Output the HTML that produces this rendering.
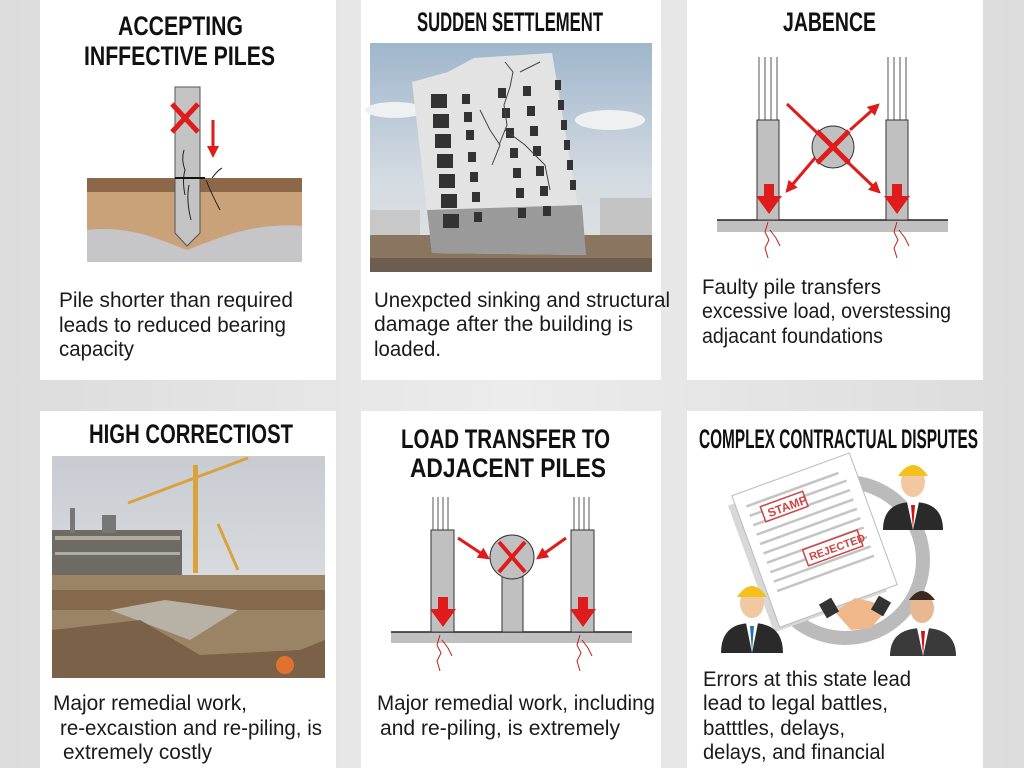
<!DOCTYPE html>
<html><head><meta charset="utf-8"><style>
html,body{margin:0;padding:0;background:#e4e4e4;}
svg{display:block}
.t{font-family:"Liberation Sans Narrow","Liberation Sans",sans-serif;font-weight:bold;font-size:27px;fill:#111}
.b{font-family:"Liberation Sans Narrow","Liberation Sans",sans-serif;font-size:21px;fill:#1a1a1a}
</style></head><body>
<svg width="1024" height="768" viewBox="0 0 1024 768" xmlns="http://www.w3.org/2000/svg">
<defs>
<linearGradient id="bg" x1="0" x2="1"><stop offset="0" stop-color="#dcdcdc"/><stop offset=".5" stop-color="#ececec"/><stop offset="1" stop-color="#dcdcdc"/></linearGradient>
<linearGradient id="sky" x1="0" y1="0" x2="0" y2="1"><stop offset="0" stop-color="#9fb6cc"/><stop offset=".6" stop-color="#d4dbe2"/><stop offset="1" stop-color="#e2e2e2"/></linearGradient>
<linearGradient id="sky2" x1="0" y1="0" x2="0" y2="1"><stop offset="0" stop-color="#c8ccd2"/><stop offset="1" stop-color="#e4e6e8"/></linearGradient>
<marker id="ah" viewBox="0 0 10 10" refX="8" refY="5" markerWidth="4" markerHeight="4" orient="auto"><path d="M0,0L10,5L0,10z" fill="#e01b1b"/></marker>
</defs>
<rect width="1024" height="768" fill="url(#bg)"/>
<!-- cards -->
<rect x="40" y="0" width="296" height="380" fill="#fff"/>
<rect x="361" y="0" width="300" height="380" fill="#fff"/>
<rect x="687" y="0" width="296" height="380" fill="#fff"/>
<rect x="40" y="411" width="296" height="357" fill="#fff"/>
<rect x="361" y="411" width="300" height="357" fill="#fff"/>
<rect x="687" y="411" width="296" height="357" fill="#fff"/>

<!-- card1 -->
<text class="t" x="118" y="35" textLength="125" lengthAdjust="spacingAndGlyphs">ACCEPTING</text>
<text class="t" x="84" y="65" textLength="191" lengthAdjust="spacingAndGlyphs">INFFECTIVE PILES</text>
<rect x="87" y="178" width="215" height="84" fill="#c9a27a"/>
<rect x="87" y="178" width="215" height="14" fill="#8d6848"/>
<path d="M87,230 C130,225 160,240 187,250 C215,240 250,222 302,226 L302,262 L87,262Z" fill="#c6c6c8"/>
<path d="M175,87 L200,87 L200,233 L187,246 L175,233Z" fill="#c3c3c3" stroke="#555" stroke-width="1"/>
<path d="M184,150 q-3,10 1,20 q-3,10 0,25 M189,185 q-3,15 2,35 M206,180 q6,15 14,30 M212,178 q6,-8 10,-10" stroke="#222" fill="none" stroke-width="1"/>
<line x1="175" y1="178" x2="205" y2="178" stroke="#111" stroke-width="2"/>
<path d="M172,104 L198,132 M198,104 L172,132" stroke="#e01b1b" stroke-width="5"/>
<line x1="213" y1="120" x2="213" y2="148" stroke="#e01b1b" stroke-width="3"/>
<path d="M207,146 L219,146 L213,158Z" fill="#e01b1b"/>
<text class="b" x="59" y="307" textLength="234" lengthAdjust="spacingAndGlyphs">Pile shorter than required</text>
<text class="b" x="59" y="332" textLength="227" lengthAdjust="spacingAndGlyphs">leads to reduced bearing</text>
<text class="b" x="59" y="356" textLength="75" lengthAdjust="spacingAndGlyphs">capacity</text>

<!-- card2 -->
<text class="t" x="417" y="31" textLength="186" lengthAdjust="spacingAndGlyphs">SUDDEN SETTLEMENT</text>
<rect x="370" y="43" width="282" height="229" fill="url(#sky)"/>
<ellipse cx="395" cy="110" rx="30" ry="8" fill="#eef0f2"/>
<ellipse cx="610" cy="120" rx="35" ry="10" fill="#eef0f2"/>
<rect x="370" y="210" width="50" height="30" fill="#c8c8c8"/>
<rect x="600" y="198" width="52" height="38" fill="#c4c4c4"/>
<rect x="370" y="235" width="282" height="37" fill="#8a7560"/>
<rect x="370" y="258" width="282" height="14" fill="#6d5d4e"/>
<path d="M412,82 L448,72 L474,58 L552,53 L586,255 L432,253Z" fill="#e3e3e3"/>
<path d="M427,210 L582,205 L586,255 L432,253Z" fill="#9a9a9a"/>
<g fill="#333">
<rect x="431" y="94" width="16" height="14"/><rect x="433" y="114" width="16" height="14"/><rect x="435" y="134" width="16" height="14"/><rect x="437" y="154" width="16" height="14"/><rect x="439" y="174" width="16" height="14"/><rect x="441" y="194" width="16" height="14"/><rect x="443" y="214" width="16" height="14"/>
<rect x="462" y="94" width="8" height="10"/><rect x="464" y="112" width="8" height="10"/><rect x="466" y="130" width="8" height="10"/><rect x="468" y="152" width="8" height="10"/><rect x="470" y="172" width="8" height="10"/><rect x="472" y="192" width="8" height="10"/><rect x="474" y="212" width="8" height="10"/>
<rect x="498" y="88" width="8" height="10"/><rect x="502" y="108" width="8" height="10"/><rect x="506" y="128" width="8" height="10"/><rect x="510" y="148" width="8" height="10"/><rect x="513" y="168" width="8" height="10"/><rect x="516" y="188" width="8" height="10"/><rect x="518" y="208" width="8" height="10"/>
<rect x="523" y="86" width="8" height="10"/><rect x="527" y="106" width="8" height="10"/><rect x="530" y="126" width="8" height="10"/><rect x="533" y="146" width="8" height="10"/><rect x="536" y="166" width="8" height="10"/><rect x="540" y="186" width="8" height="10"/><rect x="543" y="206" width="8" height="10"/>
<rect x="555" y="80" width="6" height="10"/><rect x="558" y="100" width="6" height="10"/><rect x="561" y="120" width="6" height="10"/><rect x="564" y="140" width="6" height="10"/><rect x="567" y="160" width="6" height="10"/><rect x="570" y="180" width="6" height="10"/>
</g>
<path d="M505,62 l8,10 -3,15 -6,18 3,20 -8,20 M480,110 l10,20 10,15 -8,20 M505,130 l20,15 20,20 5,25 M540,62 l-20,10" stroke="#444" fill="none" stroke-width="1"/>
<text class="b" x="374" y="307" textLength="296" lengthAdjust="spacingAndGlyphs">Unexpcted sinking and structural</text>
<text class="b" x="374" y="331" textLength="259" lengthAdjust="spacingAndGlyphs">damage after the building is</text>
<text class="b" x="374" y="356" textLength="67" lengthAdjust="spacingAndGlyphs">loaded.</text>

<!-- card3 -->
<text class="t" x="783" y="31" textLength="93" lengthAdjust="spacingAndGlyphs">JABENCE</text>
<g stroke="#555" stroke-width="1">
<line x1="759" y1="57" x2="759" y2="120"/><line x1="765" y1="57" x2="765" y2="120"/><line x1="771" y1="57" x2="771" y2="120"/><line x1="777" y1="57" x2="777" y2="120"/>
<line x1="888" y1="57" x2="888" y2="120"/><line x1="894" y1="57" x2="894" y2="120"/><line x1="900" y1="57" x2="900" y2="120"/><line x1="906" y1="57" x2="906" y2="120"/>
</g>
<rect x="717" y="220" width="231" height="12" fill="#c0c0c0"/>
<line x1="717" y1="220" x2="948" y2="220" stroke="#222" stroke-width="1.5"/>
<rect x="757" y="120" width="22" height="100" fill="#c0c0c0" stroke="#333"/>
<rect x="886" y="120" width="22" height="100" fill="#c0c0c0" stroke="#333"/>
<circle cx="833" cy="147" r="21" fill="#c0c0c0" stroke="#333"/>
<line x1="787" y1="104" x2="879" y2="192" stroke="#e01b1b" stroke-width="3" marker-end="url(#ah)"/>
<line x1="815" y1="158" x2="787" y2="191" stroke="#e01b1b" stroke-width="3" marker-end="url(#ah)"/>
<line x1="850" y1="130" x2="878" y2="105" stroke="#e01b1b" stroke-width="3" marker-end="url(#ah)"/>
<path d="M817,131 L849,163 M849,131 L817,163" stroke="#e01b1b" stroke-width="5"/>
<path d="M764,184 h10 v12 h8 l-13,18 -13,-18 h8z" fill="#e01b1b"/>
<path d="M892,184 h10 v12 h8 l-13,18 -13,-18 h8z" fill="#e01b1b"/>
<path d="M768,222 l-3,10 4,8 -4,8 3,10 M770,230 l6,8 4,8 M897,222 l-3,10 4,8 -4,8 3,10 M899,230 l6,8 4,8" stroke="#b22" fill="none" stroke-width="1"/>
<text class="b" x="702" y="294" textLength="179" lengthAdjust="spacingAndGlyphs">Faulty pile transfers</text>
<text class="b" x="702" y="318" textLength="249" lengthAdjust="spacingAndGlyphs">excessive load, overstessing</text>
<text class="b" x="702" y="343" textLength="181" lengthAdjust="spacingAndGlyphs">adjacant foundations</text>

<!-- card4 -->
<text class="t" x="89" y="443" textLength="204" lengthAdjust="spacingAndGlyphs">HIGH CORRECTIOST</text>
<rect x="52" y="456" width="273" height="222" fill="url(#sky2)"/>
<rect x="52" y="530" width="130" height="45" fill="#6e6a64"/>
<rect x="55" y="536" width="125" height="4" fill="#b0aaa0"/><rect x="55" y="552" width="125" height="3" fill="#b0aaa0"/>
<rect x="70" y="508" width="5" height="25" fill="#777"/><rect x="102" y="515" width="14" height="18" fill="#777"/>
<rect x="193" y="465" width="5" height="108" fill="#d9a23a"/>
<line x1="128" y1="503" x2="248" y2="458" stroke="#d9a23a" stroke-width="3"/>
<line x1="218" y1="524" x2="238" y2="570" stroke="#d9a23a" stroke-width="3"/>
<rect x="52" y="575" width="273" height="103" fill="#9b8466"/>
<rect x="52" y="590" width="273" height="20" fill="#84694c"/>
<path d="M110,610 L165,600 L238,610 L190,640 Z" fill="#b7b1a6"/>
<path d="M52,630 L140,620 L200,655 L300,650 L325,640 L325,678 L52,678Z" fill="#7b6148"/>
<circle cx="285" cy="665" r="9" fill="#e0722f"/>
<text class="b" x="53" y="710" textLength="194" lengthAdjust="spacingAndGlyphs">Major remedial work,</text>
<text class="b" x="60" y="735" textLength="262" lengthAdjust="spacingAndGlyphs">re-excaıstion and re-piling, is</text>
<text class="b" x="63" y="759" textLength="149" lengthAdjust="spacingAndGlyphs">extremely costly</text>

<!-- card5 -->
<text class="t" x="401" y="448" textLength="209" lengthAdjust="spacingAndGlyphs">LOAD TRANSFER TO</text>
<text class="t" x="410" y="477" textLength="196" lengthAdjust="spacingAndGlyphs">ADJACENT PILES</text>
<g stroke="#555" stroke-width="1">
<line x1="433" y1="497" x2="433" y2="530"/><line x1="438" y1="497" x2="438" y2="530"/><line x1="443" y1="497" x2="443" y2="530"/><line x1="448" y1="497" x2="448" y2="530"/>
<line x1="574" y1="497" x2="574" y2="530"/><line x1="579" y1="497" x2="579" y2="530"/><line x1="584" y1="497" x2="584" y2="530"/><line x1="589" y1="497" x2="589" y2="530"/>
</g>
<rect x="391" y="632" width="241" height="11" fill="#c0c0c0"/>
<line x1="391" y1="632" x2="632" y2="632" stroke="#222" stroke-width="1.5"/>
<rect x="431" y="530" width="23" height="102" fill="#c0c0c0" stroke="#333"/>
<rect x="571" y="530" width="23" height="102" fill="#c0c0c0" stroke="#333"/>
<rect x="502" y="560" width="21" height="72" fill="#c0c0c0" stroke="#333"/>
<circle cx="512" cy="557" r="22" fill="#c0c0c0" stroke="#333"/>
<path d="M499,542 L525,572 M525,542 L499,572" stroke="#e01b1b" stroke-width="4"/>
<line x1="458" y1="538" x2="488" y2="558" stroke="#e01b1b" stroke-width="3" marker-end="url(#ah)"/>
<line x1="566" y1="538" x2="538" y2="558" stroke="#e01b1b" stroke-width="3" marker-end="url(#ah)"/>
<path d="M438,597 h10 v12 h8 l-13,18 -13,-18 h8z" fill="#e01b1b"/>
<path d="M578,597 h10 v12 h8 l-13,18 -13,-18 h8z" fill="#e01b1b"/>
<path d="M440,635 l-3,10 4,8 -4,8 3,10 M442,640 l6,8 4,8 M580,635 l-3,10 4,8 -4,8 3,10 M582,640 l6,8 4,8" stroke="#b22" fill="none" stroke-width="1"/>
<text class="b" x="377" y="710" textLength="278" lengthAdjust="spacingAndGlyphs">Major remedial work, including</text>
<text class="b" x="380" y="735" textLength="240" lengthAdjust="spacingAndGlyphs">and re-piling, is extremely</text>

<!-- card6 -->
<text class="t" x="699" y="448" textLength="279" lengthAdjust="spacingAndGlyphs">COMPLEX CONTRACTUAL DISPUTES</text>
<circle cx="845" cy="560" r="78" fill="none" stroke="#bbbbbb" stroke-width="14"/>
<g transform="rotate(-20 815 540)">
<rect x="745" y="478" width="120" height="135" fill="#d8d8d8"/>
<rect x="752" y="470" width="125" height="140" fill="#fff" stroke="#bbb"/>
<g stroke="#c4c4c4" stroke-width="2.5">
<line x1="762" y1="485" x2="860" y2="485"/><line x1="762" y1="495" x2="865" y2="495"/><line x1="762" y1="505" x2="865" y2="505"/><line x1="762" y1="515" x2="865" y2="515"/><line x1="762" y1="525" x2="865" y2="525"/><line x1="762" y1="535" x2="865" y2="535"/><line x1="762" y1="545" x2="865" y2="545"/><line x1="762" y1="555" x2="865" y2="555"/><line x1="762" y1="565" x2="865" y2="565"/><line x1="762" y1="575" x2="865" y2="575"/>
</g>
<rect x="775" y="490" width="45" height="16" fill="#fff" stroke="#c44" stroke-width="1.5"/>
<text x="780" y="503" font-family="Liberation Sans" font-weight="bold" font-size="12" fill="#c44">STAMP</text>
<rect x="800" y="545" width="58" height="17" fill="#fff" stroke="#c44" stroke-width="1.5"/>
<text x="804" y="558" font-family="Liberation Sans" font-weight="bold" font-size="11" fill="#c44">REJECTED</text>
</g>
<path d="M835,612 l20,-14 18,4 12,10 -14,16 -20,2z" fill="#f0b88a"/>
<rect x="822" y="600" width="14" height="16" fill="#333" transform="rotate(-30 829 608)"/>
<rect x="874" y="598" width="14" height="16" fill="#333" transform="rotate(30 881 606)"/>
<g>
<path d="M883,530 q0,-28 30,-28 q30,0 30,28z" fill="#2a2a2a"/><path d="M907,502 l6,28 6,-28z" fill="#fff"/><path d="M911,505 l2,24 2,-24z" fill="#c11"/>
<ellipse cx="913" cy="482" rx="12" ry="15" fill="#f2c8a0"/><path d="M898,476 q15,-22 30,0z" fill="#f4c01c"/>
</g>
<g>
<path d="M721,653 q0,-30 31,-30 q31,0 31,30z" fill="#2a2a2a"/><path d="M746,623 l6,30 6,-30z" fill="#fff"/><path d="M750,626 l2,26 2,-26z" fill="#2a6fb0"/>
<ellipse cx="752" cy="603" rx="12" ry="15" fill="#f2c8a0"/><path d="M737,597 q15,-22 30,0z" fill="#f4c01c"/>
</g>
<g>
<path d="M890,656 q0,-28 33,-28 q33,0 33,28z" fill="#3a3a3a"/><path d="M917,628 l6,28 6,-28z" fill="#fff"/><path d="M921,631 l2,24 2,-24z" fill="#c11"/>
<ellipse cx="922" cy="608" rx="12" ry="15" fill="#e8b890"/><path d="M909,600 q13,-18 26,0z" fill="#3a2a22"/>
</g>
<text class="b" x="703" y="686" textLength="208" lengthAdjust="spacingAndGlyphs">Errors at this state lead</text>
<text class="b" x="703" y="710" textLength="185" lengthAdjust="spacingAndGlyphs">lead to legal battles,</text>
<text class="b" x="703" y="735" textLength="142" lengthAdjust="spacingAndGlyphs">batttles, delays,</text>
<text class="b" x="703" y="759" textLength="182" lengthAdjust="spacingAndGlyphs">delays, and financial</text>
</svg>
</body></html>
